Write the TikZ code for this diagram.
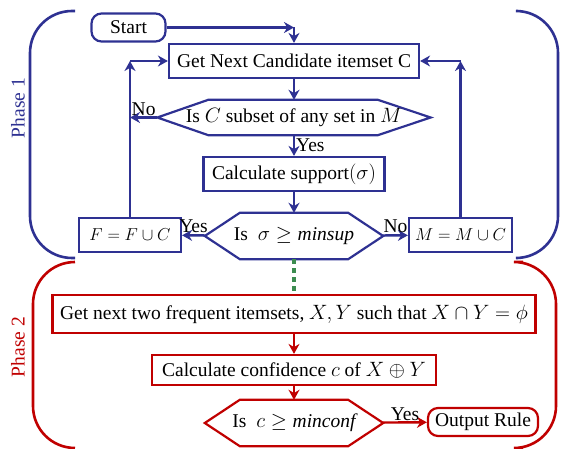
\documentclass[tikz,border=0pt]{standalone}
\usepackage{fontspec}
\setmainfont{Liberation Serif}
\usepackage{amssymb}
\usepackage{amsmath}
\usetikzlibrary{arrows.meta}
\definecolor{phaseblue}{RGB}{46,49,146}
\definecolor{phasered}{RGB}{192,0,0}
\definecolor{linkgreen}{RGB}{60,140,80}

\begin{document}
\begin{tikzpicture}[x=1pt,y=-1pt,
  font=\fontsize{19.5}{22}\selectfont,
  blk/.style={draw,line width=2.2pt,minimum height=34pt,inner sep=3pt},
  setbox/.style={blk,font=\fontsize{17}{20}\selectfont,inner xsep=1pt},
  term/.style={blk,rounded corners=10pt,minimum height=28pt},
  cond/.style={inner sep=0pt,minimum height=46pt,minimum width=178pt},
  hexb/.style={line width=2.2pt,line join=miter},
  arr/.style={line width=2.4pt,-{Stealth[length=10pt,width=11pt]}},
  arrb/.style={arr,phaseblue},
  arrr/.style={arr,phasered},
  lbl/.style={text=black,inner sep=1pt},
  brack/.style={line width=2.6pt,rounded corners=42pt}]
\useasboundingbox (0,0) rectangle (563,449);
% phase 1
\draw[brack,phaseblue] (75,11) -- (30,11) -- (30,258) -- (75,258);
\draw[brack,phaseblue] (518,11) -- (558,11) -- (558,258) -- (518,258);
\node[rotate=90,text=phaseblue] (p1) at (18,108) {Phase 1};
\node[term,draw=phaseblue,minimum width=74pt] (start) at (128.5,27.5) {Start};
\node[blk,draw=phaseblue,minimum width=250pt] (get) at (294,61) {Get Next Candidate itemset C};
\node[cond,minimum width=273pt,minimum height=35pt] (isc) at (294,117.5) {Is $C$ subset of any set in $M$};
\draw[hexb,phaseblue] (isc.west) -- ([xshift=51pt]isc.north west) -- ([xshift=-53pt]isc.north east)
  -- (isc.east) -- ([xshift=-53pt]isc.south east) -- ([xshift=51pt]isc.south west) -- cycle;
\node[blk,draw=phaseblue,minimum width=181pt] (sup) at (294,174) {Calculate support$(\sigma)$};
\node[cond] (iss) at (294,236) {Is\ \ $\sigma \geq \mathit{minsup}$};
\draw[hexb,phaseblue] (iss.west) -- ([xshift=35pt]iss.north west) -- ([xshift=-35pt]iss.north east)
  -- (iss.east) -- ([xshift=-35pt]iss.south east) -- ([xshift=35pt]iss.south west) -- cycle;
\node[setbox,draw=phaseblue,minimum width=102pt] (fset) at (130,235) {$F = F \cup C$};
\node[setbox,draw=phaseblue,minimum width=103pt] (mset) at (460.5,235) {$M = M \cup C$};
\coordinate (c1) at (get.north |- start.east);
\coordinate (lt) at (fset.north |- get.west);
\coordinate (rt) at (mset.north |- get.east);
\coordinate (noc) at (fset.north |- isc.west);
\draw[arrb] (start.east) -- (c1);
\draw[arrb] (c1) -- (get);
\draw[arrb] (get) -- (isc);
\draw[arrb] (isc) -- node[lbl,right]{Yes} (sup);
\draw[arrb] (isc) -- node[lbl,above]{No} (noc);
\draw[arrb] (sup) -- (iss);
\draw[arrb] (iss) -- node[lbl,above]{Yes} (fset);
\draw[arrb] (iss) -- node[lbl,above]{No} (mset);
\draw[arrb] (fset) -- (lt);
\draw[arrb] (lt) -- (get);
\draw[arrb] (mset) -- (rt);
\draw[arrb] (rt) -- (get);
% phase 2
\draw[brack,phasered] (75,262) -- (33,262) -- (33,448) -- (75,448);
\draw[brack,phasered] (523,262) -- (556,262) -- (556,448) -- (523,448);
\node[rotate=90,text=phasered] (p2) at (18,347) {Phase 2};
\node[blk,draw=phasered,minimum width=483pt,minimum height=38pt] (two) at (294,314) {Get next two frequent itemsets, $X, Y$ such that $X \cap Y = \phi$};
\node[blk,draw=phasered,minimum width=284pt,minimum height=30pt] (conf) at (294,370) {Calculate confidence $c$ of $X \oplus Y$};
\node[cond] (ism) at (294,423) {Is\ \ $c \geq \mathit{minconf}$};
\draw[hexb,phasered] (ism.west) -- ([xshift=35pt]ism.north west) -- ([xshift=-35pt]ism.north east)
  -- (ism.east) -- ([xshift=-35pt]ism.south east) -- ([xshift=35pt]ism.south west) -- cycle;
\node[term,draw=phasered,minimum width=110pt] (out) at (483,422) {Output Rule};
\draw[linkgreen,line width=4.5pt,dash pattern=on 5pt off 4pt] (iss) -- (two);
\draw[arrr] (two) -- (conf);
\draw[arrr] (conf) -- (ism);
\draw[arrr] (ism) -- node[lbl,above]{Yes} (out);
\end{tikzpicture}
\end{document}
